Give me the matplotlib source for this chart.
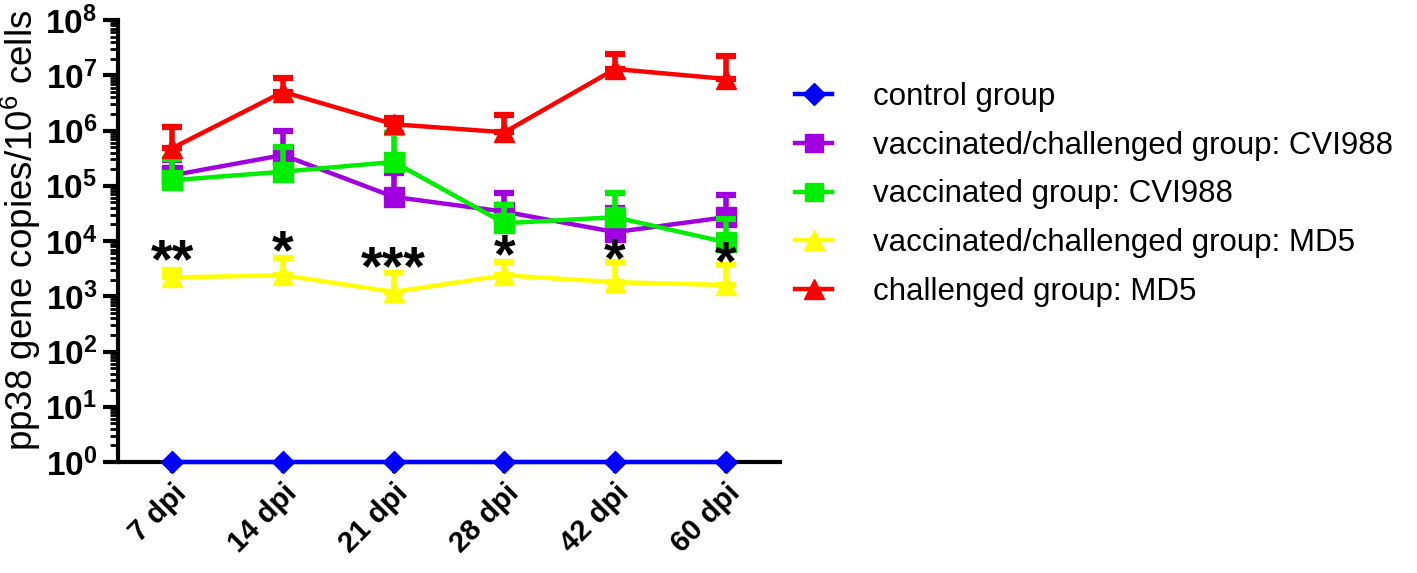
import matplotlib
matplotlib.use("Agg")
import matplotlib.pyplot as plt
import numpy as np
from matplotlib.ticker import LogLocator, FixedLocator, NullFormatter

plt.rcParams['font.family'] = ['Liberation Sans', 'DejaVu Sans']
plt.rcParams['mathtext.fontset'] = 'custom'
plt.rcParams['mathtext.rm'] = 'Liberation Sans'
plt.rcParams['mathtext.bf'] = 'Liberation Sans:bold'

days = ['7 dpi', '14 dpi', '21 dpi', '28 dpi', '42 dpi', '60 dpi']

control = [1, 1, 1, 1, 1, 1]
vc_cvi = [1.55e5, 3.6e5, 6.3e4, 3.4e4, 1.45e4, 2.7e4]
vc_cvi_top = [2.9e5, 1.0e6, 1.7e5, 7.4e4, 4.0e4, 6.8e4]
v_cvi = [1.26e5, 1.8e5, 2.7e5, 2.1e4, 2.7e4, 9.5e3]
v_cvi_top = [3.0e5, 5.0e5, 8.9e5, 4.5e4, 7.4e4, 2.5e4]
vc_md5 = [2.2e3, 2.4e3, 1.2e3, 2.4e3, 1.8e3, 1.6e3]
vc_md5_top = [2.95e3, 4.9e3, 2.6e3, 4.2e3, 4.2e3, 3.7e3]
c_md5 = [4.8e5, 5.0e6, 1.3e6, 9.3e5, 1.3e7, 8.6e6]
c_md5_top = [1.15e6, 8.9e6, 1.7e6, 1.9e6, 2.4e7, 2.2e7]

stars = ['**', '*', '***', '*', '*', '*']
star_y = [4.0e3, 5.8e3, 2.9e3, 4.9e3, 4.2e3, 3.7e3]

fig = plt.figure(figsize=(14.17, 5.73), dpi=100)
ax = fig.add_axes([0.0833, 0.1937, 0.4672, 0.7713])

x = np.arange(len(days))

series = [
    ('control group', control, None, '#0000ff', 'D', 11.5),
    ('vaccinated/challenged group: CVI988', vc_cvi, vc_cvi_top, '#a000e0', 's', 14),
    ('vaccinated group: CVI988', v_cvi, v_cvi_top, '#00ee00', 's', 14),
    ('vaccinated/challenged group: MD5', vc_md5, vc_md5_top, '#ffff00', '^', 15),
    ('challenged group: MD5', c_md5, c_md5_top, '#ff0000', '^', 15),
]

for i, (label, mean, top, color, marker, ms) in enumerate(series):
    mean = np.array(mean, dtype=float)
    if top is not None:
        up = np.array(top) - mean
        ax.errorbar(x, mean, yerr=[np.zeros_like(mean), up], fmt='none',
                    ecolor=color, elinewidth=4, capsize=7, capthick=4.5,
                    zorder=3 + i, clip_on=False)
    ax.plot(x, mean, color=color, marker=marker, markersize=ms, linewidth=3.2,
            label=label, zorder=3 + i, clip_on=False)

for xi, s, yv in zip(x, stars, star_y):
    ax.text(xi, yv, s, ha='center', va='center', fontsize=40,
            fontweight='bold', color='black', zorder=10)

ax.set_yscale('log')
ax.set_ylim(1, 1e8)
ax.set_xlim(-0.49, 5.49)

ax.yaxis.set_major_locator(FixedLocator([10.0 ** k for k in range(9)]))
ax.set_yticklabels([r'$\mathbf{10^{%d}}$' % k for k in range(9)])
ax.yaxis.set_minor_locator(LogLocator(base=10, subs=np.arange(2, 10), numticks=20))
ax.yaxis.set_minor_formatter(NullFormatter())

ax.set_xticks(x)
ax.set_xticklabels(days, rotation=45, ha='right', rotation_mode='anchor',
                   fontsize=21, fontweight='bold')

ax.tick_params(axis='y', which='major', labelsize=24, length=11, width=3, pad=4)
ax.tick_params(axis='y', which='minor', length=6, width=2)
ax.tick_params(axis='x', which='major', length=8, width=3, pad=4)

for side in ['top', 'right']:
    ax.spines[side].set_visible(False)
for side in ['left', 'bottom']:
    ax.spines[side].set_linewidth(3)

ax.set_ylabel(r'pp38 gene copies/10$^{6}$ cells', fontsize=26.5)
ax.yaxis.set_label_coords(-0.113, 0.525)

fig.legend(loc='upper left', bbox_to_anchor=(0.561, 0.857), frameon=False,
           fontsize=22.5, handlelength=1.2, handletextpad=1.3, labelspacing=0.6,
           borderpad=0, borderaxespad=0, markerscale=0.95)

fig.savefig('out.png', dpi=100)
